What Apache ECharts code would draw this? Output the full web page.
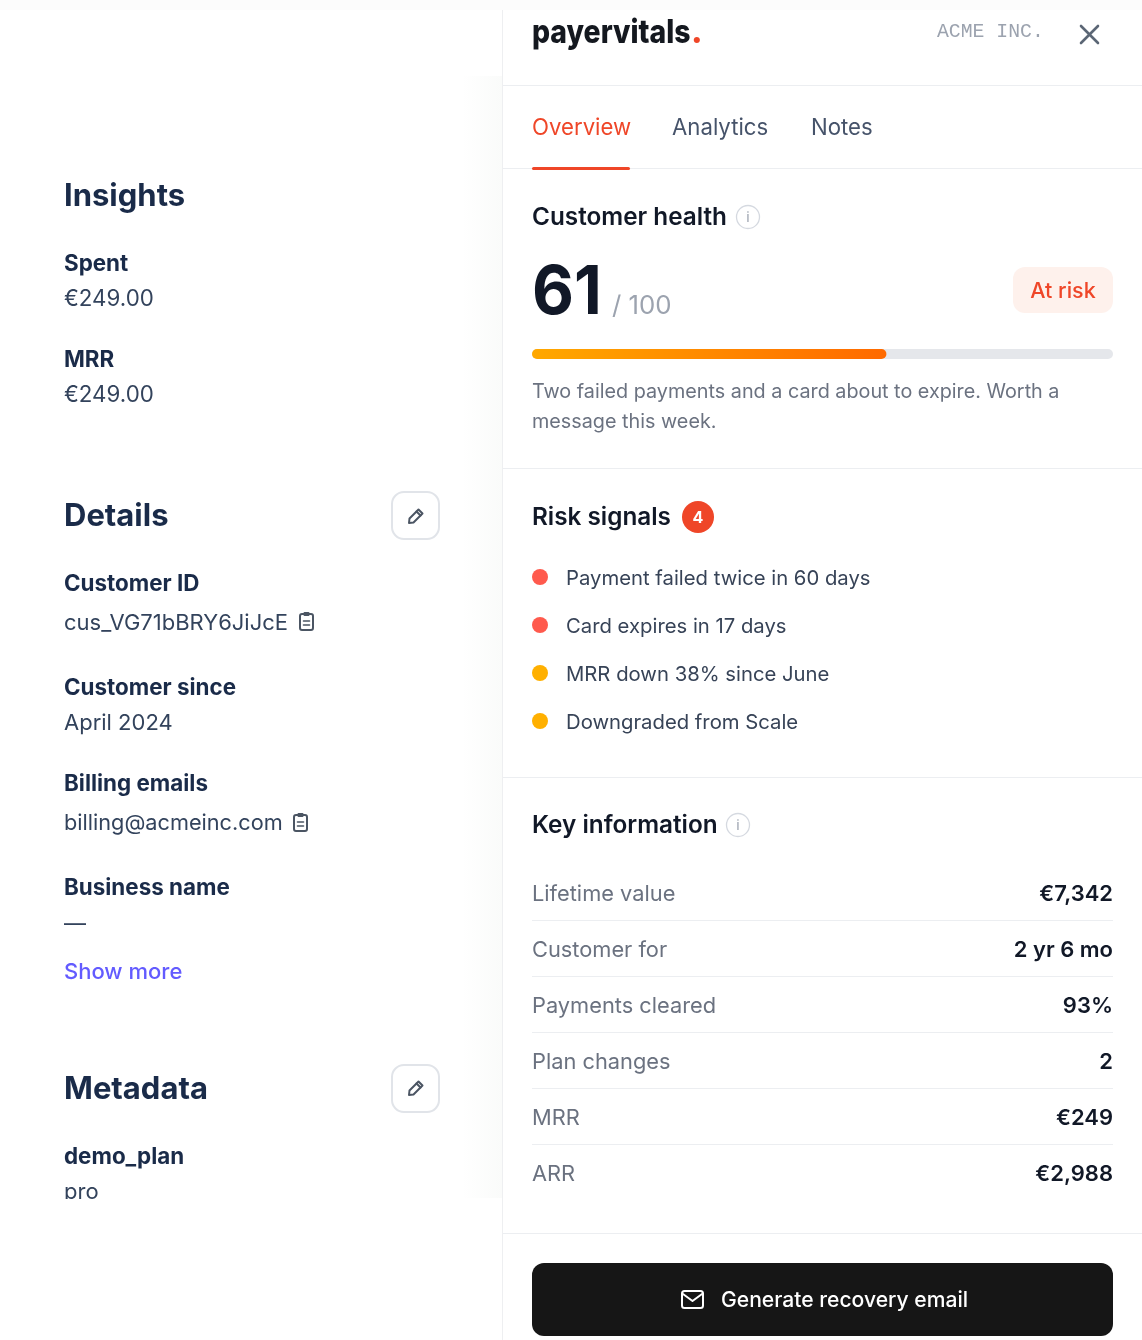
<!DOCTYPE html>
<html>
<head>
<meta charset="utf-8">
<style>html,body{margin:0;padding:0;background:#fff}#main{width:1142px;height:1340px}</style>
<script src="https://cdn.jsdelivr.net/npm/echarts@6/dist/echarts.min.js"></script>
</head>
<body>
<div id="main"></div>
<script>
var healthScore = 61;
var healthMax = 100;
var riskSignals = ['Payment failed twice in 60 days', 'Card expires in 17 days', 'MRR down 38% since June', 'Downgraded from Scale'];
var riskLevels = ['high', 'high', 'medium', 'medium'];
var riskColors = { high: '#ff5a4d', medium: '#ffb000' };
var keyLabels = ['Lifetime value', 'Customer for', 'Payments cleared', 'Plan changes', 'MRR', 'ARR'];
var keyValues = ['€7,342', '2 yr 6 mo', '93%', '2', '€249', '€2,988'];
var tabs = ['Overview', 'Analytics', 'Notes'];

var navy = '#1a2b49', dark = '#111827', grey = '#6b7280', light = '#9ca3af', red = '#ef4628', line = '#eceef1', body = '#33435c';
var font = 'Inter';
var g = [];

function text(x, y, s, size, weight, color, align, family, sx) {
  g.push({ type: 'text', x: x, y: y + 1.5, z: 5, scaleX: sx || 1, style: {
    text: s, fill: color, align: align || 'left', verticalAlign: 'middle',
    font: weight + ' ' + size + 'px "' + (family || font) + '"'
  } });
}
function rect(x, y, w, h, r, fill, stroke, z) {
  g.push({ type: 'rect', z: z || 3, shape: { x: x, y: y, width: w, height: h, r: r || 0 },
    style: { fill: fill || 'none', stroke: stroke || 'none', lineWidth: stroke ? 2 : 0 } });
}
function poly(points, color, width, closed, fill) {
  g.push({ type: closed ? 'polygon' : 'polyline', z: 6, shape: { points: points },
    style: { fill: fill || 'none', stroke: color, lineWidth: width, lineCap: 'round', lineJoin: 'round' } });
}
function infoIcon(cx, cy) {
  g.push({ type: 'circle', z: 3, shape: { cx: cx, cy: cy, r: 11.5 }, style: { fill: '#fff', stroke: '#d5d9e0', lineWidth: 1.3 } });
  text(cx, cy - 1, 'i', 14, 400, light, 'center');
}
function pencil(cx, cy) {
  poly([[cx - 7, cy + 7], [cx - 6.5, cy + 2.5], [cx + 2.5, cy - 6.5], [cx + 6.5, cy - 2.5], [cx - 2.5, cy + 6.5]], '#4b5563', 2, true);
  poly([[cx + 0.5, cy - 4.5], [cx + 4.5, cy - 0.5]], '#4b5563', 2);
}
function clipboard(x, y) {
  rect(x + 1, y + 2, 13, 16, 2, null, '#4b5563', 6);
  rect(x + 4.5, y, 6, 4, 1, '#4b5563', null, 7);
  poly([[x + 4.5, y + 9], [x + 10.5, y + 9]], '#4b5563', 1.6);
  poly([[x + 4.5, y + 13], [x + 10.5, y + 13]], '#4b5563', 1.6);
}

// panel edge, faint shadow to its left
g.push({ type: 'rect', z: 0, shape: { x: 462, y: 76, width: 40, height: 1122 }, style: { fill: {
  type: 'linear', x: 0, y: 0, x2: 1, y2: 0, colorStops: [{ offset: 0, color: '#ffffff' }, { offset: 1, color: '#fafbfa' }] } } });
rect(0, 0, 1142, 10, 0, '#fcfcfc', null, 0);
rect(503, 10, 639, 1330, 0, '#fff', null, 1);
rect(502, 10, 1, 1330, 0, '#eeeff1', null, 2);
[85, 168, 468, 777, 1233].forEach(function (y) { rect(503, y, 639, 1, 0, line, null, 2); });

// header
text(532, 31.5, 'payervitals', 33, 800, '#14181f', 'left', font, 0.86);
text(691, 31.5, '.', 33, 800, red);
text(937, 30, 'ACME INC.', 19.8, 400, light, 'left', 'Liberation Mono');
poly([[1081, 26], [1098, 43]], '#5b6675', 2.6);
poly([[1098, 26], [1081, 43]], '#5b6675', 2.6);

// tabs
var tabX = [532, 672, 811];
tabs.forEach(function (t, i) { text(tabX[i], 126.5, t, 22.2, 400, i === 0 ? red : '#46536a'); });
rect(532, 167, 98, 3, 1.5, red, null, 4);

// health
text(532, 216, 'Customer health', 24.3, 600, dark);
infoIcon(748, 217);
text(532, 292.5, String(healthScore), 68, 700, dark, 'left', font, 0.95);
text(612, 305, '/ ' + healthMax, 25.8, 400, light);
rect(1013, 267, 100, 46, 12, '#fef1ec', null, 3);
text(1063, 290, 'At risk', 21.5, 500, red, 'center');
text(532, 391, 'Two failed payments and a card about to expire. Worth a', 19.8, 400, grey);
text(532, 421, 'message this week.', 19.8, 400, grey);

// risk
text(532, 516, 'Risk signals', 24.3, 600, dark);
g.push({ type: 'circle', z: 3, shape: { cx: 698, cy: 517, r: 16 }, style: { fill: red } });
text(698, 516.5, String(riskSignals.length), 16, 700, '#fff', 'center');

// key info
text(532, 824.5, 'Key information', 24.3, 600, dark);
infoIcon(738, 825);
keyLabels.forEach(function (k, i) {
  var y = 893 + i * 56;
  text(532, y - 0.5, k, 21.8, 400, grey);
  text(1113, y - 0.5, keyValues[i], 22, 600, dark, 'right');
  if (i < keyLabels.length - 1) rect(532, y + 27, 581, 1, 0, line, null, 2);
});

// button
rect(532, 1263, 581, 73, 12, '#161616', null, 3);
rect(682, 1291, 21, 17, 2.5, null, '#fff', 6);
poly([[683, 1294], [692.5, 1301], [702, 1294]], '#fff', 2);
text(721, 1299.5, 'Generate recovery email', 21.1, 500, '#fff');

// left column
text(64, 195, 'Insights', 31, 700, navy);
text(64, 262.5, 'Spent', 22.4, 700, navy);
text(64, 297.5, '€249.00', 22.3, 400, body);
text(64, 358.5, 'MRR', 22.4, 700, navy);
text(64, 393.5, '€249.00', 22.3, 400, body);
text(64, 515, 'Details', 31, 700, navy);
rect(392, 492, 47, 47, 12, '#fff', '#e1e4e9');
pencil(416, 516);
text(64, 582.5, 'Customer ID', 22.4, 700, navy);
text(64, 621.5, 'cus_VG71bBRY6JiJcE', 22, 400, body);
clipboard(299, 612);
text(64, 686.5, 'Customer since', 22.4, 700, navy);
text(64, 721.5, 'April 2024', 22, 400, body);
text(64, 782.5, 'Billing emails', 22.4, 700, navy);
text(64, 821.5, 'billing@acmeinc.com', 21.7, 400, body);
clipboard(293, 813);
text(64, 886.5, 'Business name', 22.4, 700, navy);
text(64, 922.5, '—', 22, 400, body);
text(64, 970.5, 'Show more', 22, 500, '#635bff');
text(64, 1088, 'Metadata', 31, 700, navy);
rect(392, 1065, 47, 47, 12, '#fff', '#e1e4e9');
pencil(416, 1088);
text(64, 1155.5, 'demo_plan', 22.4, 700, navy);
text(64, 1190.5, 'pro', 22, 400, body);
rect(40, 1199, 420, 12, 0, '#fff', null, 8);

var chart = echarts.init(document.getElementById('main'));
chart.setOption({
  animation: false,
  backgroundColor: '#fff',
  grid: [
    { left: 532, top: 349, width: 581, height: 10 },
    { left: 532, top: 553, width: 16, height: 192 }
  ],
  xAxis: [
    { gridIndex: 0, type: 'value', min: 0, max: healthMax, show: false },
    { gridIndex: 1, type: 'value', min: 0, max: 1, show: false }
  ],
  yAxis: [
    { gridIndex: 0, type: 'category', data: ['Health'], show: false },
    { gridIndex: 1, type: 'category', data: riskSignals, inverse: true, show: false }
  ],
  series: [
    {
      type: 'bar', xAxisIndex: 0, yAxisIndex: 0, data: [healthScore], barWidth: 10, z: 4,
      showBackground: true,
      backgroundStyle: { color: '#e5e7eb', borderRadius: 5 },
      itemStyle: { borderRadius: 5, color: new echarts.graphic.LinearGradient(0, 0, 1, 0, [
        { offset: 0, color: '#ffa800' }, { offset: 1, color: '#ff6a00' }
      ]) }
    },
    {
      type: 'scatter', xAxisIndex: 1, yAxisIndex: 1, symbolSize: 16, z: 4,
      data: riskSignals.map(function (name, i) {
        return { value: [0.5, name], itemStyle: { color: riskColors[riskLevels[i]], opacity: 1 } };
      }),
      label: {
        show: true, position: 'right', distance: 18, offset: [0, 1.5], color: '#374357',
        fontFamily: font, fontSize: 20.3, fontWeight: 400,
        formatter: function (p) { return p.value[1]; }
      }
    }
  ],
  graphic: { elements: g }
});
</script>
</body>
</html>
